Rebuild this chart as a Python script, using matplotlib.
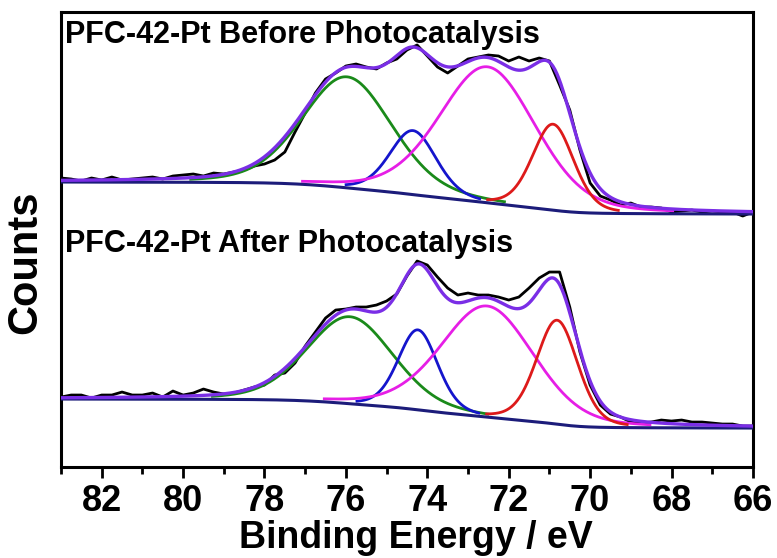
import numpy as np
import matplotlib
matplotlib.use("Agg")
import matplotlib.pyplot as plt

plt.rcParams['font.family'] = ['Liberation Sans', 'DejaVu Sans']
plt.rcParams['font.weight'] = 'bold'

# binding energy of the raw scans, 83 -> 66 eV in 0.25 eV steps
energy = np.linspace(83.0, 66.0, 69)

# raw counts (arbitrary units)
before_raw = [289, 288, 286, 289, 287, 290, 287, 288, 289, 290,
              288, 291, 292, 293, 291, 294, 293, 295, 297, 301,
              303, 307, 315, 335, 354, 374, 388, 394, 401, 403,
              400, 398, 404, 408, 417, 422, 411, 400, 394, 401,
              408, 410, 412, 411, 406, 410, 406, 409, 406, 382,
              357, 317, 284, 271, 267, 262, 264, 260, 260, 259,
              255, 256, 257, 255, 256, 255, 255, 251, 255]
after_raw = [70, 72, 72, 69, 72, 72, 75, 72, 72, 74,
             70, 76, 72, 74, 78, 75, 73, 74, 77, 80,
             82, 92, 94, 104, 121, 135, 149, 157, 158, 160,
             160, 162, 166, 173, 191, 206, 202, 190, 179, 172,
             174, 172, 172, 170, 167, 170, 179, 189, 195, 195,
             160, 115, 82, 62, 53, 50, 45, 44, 45, 47,
             46, 47, 45, 45, 44, 43, 43, 41, 41]

# fitted components (green, blue, magenta, red): centre eV, height, FWHM eV
before_centers = [75.97, 74.35, 72.52, 70.91]
before_heights = [111, 64, 136, 86]
before_fwhm = [2.6, 1.35, 2.8, 1.2]
after_centers = [75.90, 74.23, 72.53, 70.81]
after_heights = [87, 80, 111, 104]
after_fwhm = [2.5, 1.15, 2.7, 1.2]
lorentz_frac = 0.25

# background level at high-BE end and at low-BE end
before_bg = [285, 253]
after_bg = [68, 39]

comp_colors = ['#1a8a1a', '#1515cc', '#e61ee6', '#dd1a1a']
env_color = '#7a2ee6'
bg_color = '#1c1c7a'

fit_e = np.linspace(83.0, 66.0, 700)


def gl_peak(c, h, w):
    u = (fit_e - c) / w
    return h * ((1 - lorentz_frac) * np.exp(-4 * np.log(2) * u ** 2)
                + lorentz_frac / (1 + 4 * u ** 2))


def fit_curves(centers, heights, fwhm, bg):
    comps = [gl_peak(c, h, w) for c, h, w in zip(centers, heights, fwhm)]
    total = np.sum(comps, axis=0)
    # shirley type step: area from the low-BE end up to E
    area = np.cumsum(total[::-1])[::-1]
    shirley = bg[1] + (bg[0] - bg[1]) * area / area[0]
    return comps, shirley


fig = plt.figure(figsize=(7.77, 5.58), dpi=100)
ax = fig.add_axes([0.0785, 0.163, 0.8905, 0.8155])

for raw, cen, hei, fw, bg in [(before_raw, before_centers, before_heights, before_fwhm, before_bg),
                              (after_raw, after_centers, after_heights, after_fwhm, after_bg)]:
    comps, shirley = fit_curves(cen, hei, fw, bg)
    ax.plot(energy, raw, color='black', lw=2.0, zorder=2)
    for comp, col in zip(comps, comp_colors):
        mask = comp > 3.0
        ax.plot(fit_e[mask], (comp + shirley)[mask], color=col, lw=2.0, zorder=3)
    ax.plot(fit_e, shirley, color=bg_color, lw=2.2, zorder=4)
    ax.plot(fit_e, shirley + np.sum(comps, axis=0), color=env_color, lw=2.4, zorder=5)

ax.text(0.006, 0.932, 'PFC-42-Pt Before Photocatalysis', transform=ax.transAxes,
        fontsize=22, fontweight='bold', va='baseline', ha='left')
ax.text(0.006, 0.4725, 'PFC-42-Pt After Photocatalysis', transform=ax.transAxes,
        fontsize=22, fontweight='bold', va='baseline', ha='left')

ax.set_xlim(83, 66)
ax.set_ylim(0, 455)
ax.set_xticks(np.arange(82, 65, -2))
ax.set_xticks(np.arange(83, 65, -2), minor=True)
ax.set_yticks([])
ax.tick_params(axis='x', which='major', length=8, width=2, direction='out', labelsize=26, pad=4)
ax.tick_params(axis='x', which='minor', length=5, width=2, direction='out')
for sp in ax.spines.values():
    sp.set_linewidth(2.2)
ax.set_xlabel('Binding Energy / eV', fontsize=27, fontweight='bold')
ax.xaxis.set_label_coords(0.513, -0.117, transform=ax.transAxes)
ax.set_ylabel('Counts', fontsize=30, fontweight='bold')
ax.yaxis.set_label_coords(-0.023, 0.45, transform=ax.transAxes)

fig.savefig('out.png', dpi=100)
